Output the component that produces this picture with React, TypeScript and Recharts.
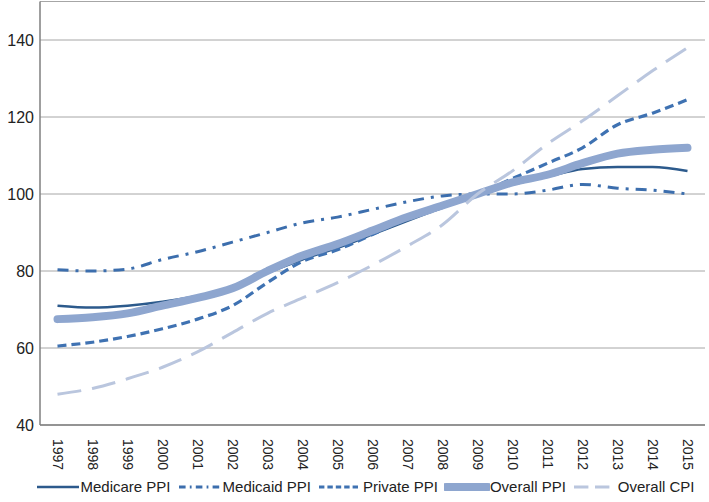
import { LineChart, Line, XAxis, YAxis, CartesianGrid, Legend } from "recharts"

const years = [
  "1997", "1998", "1999", "2000", "2001", "2002", "2003", "2004", "2005", "2006",
  "2007", "2008", "2009", "2010", "2011", "2012", "2013", "2014", "2015",
]

const medicarePpi = [71, 70.5, 71, 72, 73.5, 75.5, 79.5, 83, 86, 89.5, 93, 96.5, 100, 102.5, 104.5, 106.5, 107, 107, 106]
const medicaidPpi = [80.3, 80, 80.5, 83, 85, 87.5, 90, 92.5, 94, 96, 98, 99.5, 100, 100, 101, 102.5, 101.5, 101, 100]
const privatePpi = [60.5, 61.5, 63, 65, 67.5, 71, 77, 82.5, 85.5, 89.5, 93.5, 96.5, 100, 104, 108, 112, 118, 121, 124.5]
const overallPpi = [67.5, 68, 69, 71, 73, 75.5, 80, 84, 87, 90.5, 94, 97, 100, 103, 105, 108, 110.5, 111.5, 112]
const overallCpi = [48, 49.5, 52, 55, 59, 64, 69, 73, 77, 81.5, 86.5, 92, 100, 106, 113, 119, 125.5, 132, 138]

const yTicks = [40, 60, 80, 100, 120, 140]

const series = [
  { key: "medicare", name: "Medicare PPI", color: "#2c5a8c", width: 2.5, dash: undefined as string | undefined },
  { key: "medicaid", name: "Medicaid PPI", color: "#3c6ead", width: 3, dash: "11 7 3 7" },
  { key: "private", name: "Private PPI", color: "#3f72b2", width: 3.2, dash: "9 5" },
  { key: "overall", name: "Overall PPI", color: "#8ea6cf", width: 8, dash: undefined },
  { key: "cpi", name: "Overall CPI", color: "#bac6de", width: 3, dash: "24 11" },
]

const data = years.map((year, i) => ({
  year,
  medicare: medicarePpi[i],
  medicaid: medicaidPpi[i],
  private: privatePpi[i],
  overall: overallPpi[i],
  cpi: overallCpi[i],
}))

const font = "'Liberation Sans', Arial, sans-serif"

const YearTick = ({ x, y, payload }: any) => (
  <text
    transform={`translate(${x},${y + 6}) rotate(90)`}
    textAnchor="start"
    dominantBaseline="central"
    fontSize={14}
    fontFamily={font}
    fill="#222"
  >
    {payload.value}
  </text>
)

const LegendContent = () => (
  <div
    style={{
      display: "flex",
      justifyContent: "center",
      alignItems: "center",
      fontFamily: font,
      fontSize: 15,
      color: "#222",
      paddingLeft: 30,
    }}
  >
    {series.map((s) => (
      <div key={s.key} style={{ display: "flex", alignItems: "center", marginRight: 6 }}>
        <svg width={46} height={12}>
          <line
            x1={2}
            x2={44}
            y1={6}
            y2={6}
            stroke={s.color}
            strokeWidth={s.width}
            strokeDasharray={s.dash ? s.dash.split(" ").map((v) => Number(v) * 0.6).join(" ") : undefined}
            strokeLinecap={s.key === "overall" ? "round" : "butt"}
          />
        </svg>
        <span>{s.name}</span>
      </div>
    ))}
  </div>
)

export default function App() {
  return (
    <div style={{ position: "absolute", left: 0, top: 0, background: "#fff" }}>
      <LineChart width={709} height={502} data={data} margin={{ top: 1.5, right: 4, left: 0, bottom: 0 }}>
        <CartesianGrid vertical={false} stroke="#a6a6a6" strokeWidth={1} />
        <XAxis
          dataKey="year"
          tick={<YearTick />}
          tickLine={false}
          axisLine={{ stroke: "#7f7f7f", strokeWidth: 1.5 }}
          interval={0}
          padding={{ left: 17.5, right: 17.5 }}
          height={53}
        />
        <YAxis
          domain={[40, 150]}
          ticks={yTicks}
          width={40}
          tickLine={false}
          axisLine={{ stroke: "#7f7f7f", strokeWidth: 1.5 }}
          tick={{ fontSize: 16, fontFamily: font, fill: "#222" }}
          tickMargin={0}
        />
        {series.map((s) => (
          <Line
            key={s.key}
            dataKey={s.key}
            name={s.name}
            type="monotone"
            stroke={s.color}
            strokeWidth={s.width}
            strokeDasharray={s.dash}
            strokeLinecap={s.key === "overall" ? "round" : "butt"}
            dot={false}
            isAnimationActive={false}
          />
        ))}
        <Legend verticalAlign="bottom" height={24} content={<LegendContent />} />
      </LineChart>
    </div>
  )
}
